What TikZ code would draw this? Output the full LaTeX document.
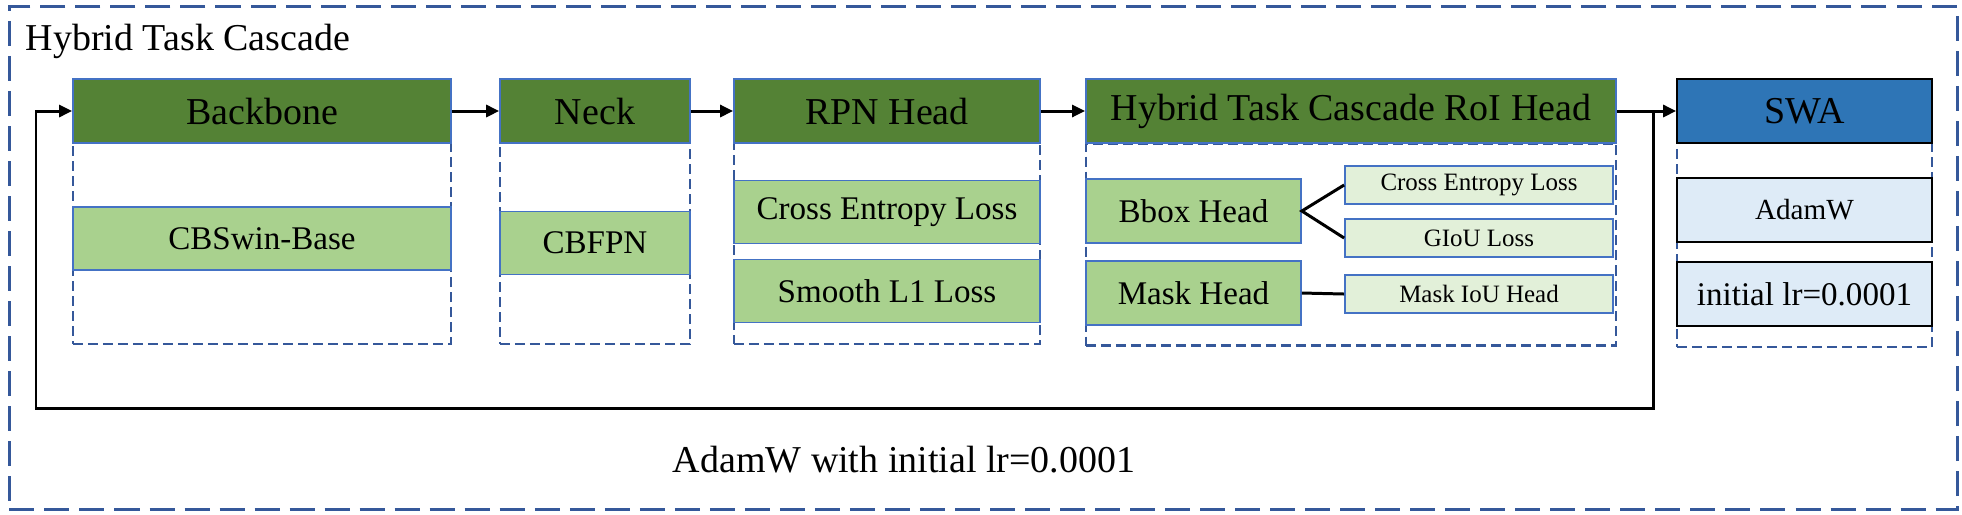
\documentclass[tikz,border=0pt]{standalone}
\usepackage{fontspec}
\setmainfont{Liberation Serif}
\usetikzlibrary{arrows.meta}
\definecolor{darkgreen}{HTML}{548235}
\definecolor{midgreen}{HTML}{A9D18E}
\definecolor{palegreen}{HTML}{E2F0D9}
\definecolor{swablue}{HTML}{2E75B6}
\definecolor{paleblue}{HTML}{DEEBF7}
\definecolor{boxblue}{HTML}{4472C4}
\definecolor{dashblue}{HTML}{35589A}

\tikzset{
  head/.style={draw=boxblue, line width=0.45pt, fill=darkgreen, minimum height=0.64cm, inner sep=0pt, font=\fontsize{10.8}{12}\selectfont},
  part/.style={draw=dashblue, line width=0.75pt, dash pattern=on 0.1cm off 0.05cm, minimum height=2.01cm, inner sep=0pt},
  item/.style={draw=boxblue, line width=0.45pt, fill=midgreen, minimum height=0.63cm, inner sep=0pt, font=\fontsize{9.4}{11}\selectfont},
  loss/.style={draw=boxblue, line width=0.45pt, fill=palegreen, minimum width=2.68cm, minimum height=0.38cm, inner sep=0pt, font=\fontsize{7.1}{8}\selectfont},
  opt/.style={draw=black, line width=0.45pt, fill=paleblue, minimum width=2.55cm, minimum height=0.64cm, inner sep=0pt},
  link/.style={line width=0.85pt, -{Triangle[length=1.3mm,width=1.2mm]}},
}

\begin{document}
\begin{tikzpicture}[x=0.01cm, y=-0.01cm]
  \useasboundingbox (0,0) rectangle (1962,514);

  \node[draw=dashblue, line width=0.9pt, dash pattern=on 0.25cm off 0.1cm, minimum width=19.47cm, minimum height=5.02cm, inner sep=0pt] (F) at (983.5, 258) {};
  \node[anchor=base west, inner sep=0pt, font=\fontsize{10.8}{12}\selectfont] (T) at (25, 50) {Hybrid Task Cascade};

  % backbone
  \node[part, minimum width=3.78cm] (BD) at (262, 243.5) {};
  \node[head, minimum width=3.78cm] (BH) at (262, 111) {Backbone};
  \node[item, minimum width=3.78cm] (B1) at (262, 238.5) {CBSwin-Base};

  % neck
  \node[part, minimum width=1.90cm] (ND) at (595, 243.5) {};
  \node[head, minimum width=1.90cm] (NH) at (595, 111) {Neck};
  \node[item, minimum width=1.90cm] (N1) at (595, 243) {CBFPN};

  % rpn head
  \node[part, minimum width=3.06cm] (RD) at (887, 243.5) {};
  \node[head, minimum width=3.06cm] (RH) at (887, 111) {RPN Head};
  \node[item, minimum width=3.06cm] (R1) at (887, 212) {Cross Entropy Loss};
  \node[item, minimum width=3.06cm] (R2) at (887, 291) {Smooth L1 Loss};

  % roi head
  \node[part, minimum width=5.30cm, minimum height=2.02cm] (HD) at (1351, 244.5) {};
  \node[head, minimum width=5.30cm] (HH) at (1351, 111) {Hybrid Task Cascade RoI Head};
  \node[item, minimum width=2.15cm, minimum height=0.64cm] (H1) at (1193.5, 211) {Bbox Head};
  \node[item, minimum width=2.15cm, minimum height=0.64cm] (H2) at (1193.5, 293) {Mask Head};
  \node[loss] (H3) at (1479, 185) {Cross Entropy Loss};
  \node[loss] (H4) at (1479, 238) {GIoU Loss};
  \node[loss] (H5) at (1479, 294) {Mask IoU Head};

  \draw[line width=0.85pt] (H3.west) -- (H1.east) -- (H4.west);
  \draw[line width=0.85pt] (H2.east) -- (H5.west);

  % swa
  \node[part, minimum width=2.55cm, minimum height=2.04cm] (SD) at (1804.5, 245) {};
  \node[head, draw=black, fill=swablue, minimum width=2.55cm] (SH) at (1804.5, 111) {SWA};
  \node[opt, font=\fontsize{8.3}{10}\selectfont] (S1) at (1804.5, 210) {AdamW};
  \node[opt, font=\fontsize{9.4}{11}\selectfont] (S2) at (1804.5, 294) {initial lr=0.0001};

  \draw[link] (BH) -- (NH);
  \draw[link] (NH) -- (RH);
  \draw[link] (RH) -- (HH);
  \draw[link] (HH) -- (SH);

  \coordinate (J) at (1653, 111);
  \coordinate (L) at (36, 408);
  \draw[link] (J) |- (L) |- (BH.west);

  \node[anchor=base, inner sep=0pt, font=\fontsize{10.8}{12}\selectfont] (A) at (904, 472) {AdamW with initial lr=0.0001};
\end{tikzpicture}
\end{document}
